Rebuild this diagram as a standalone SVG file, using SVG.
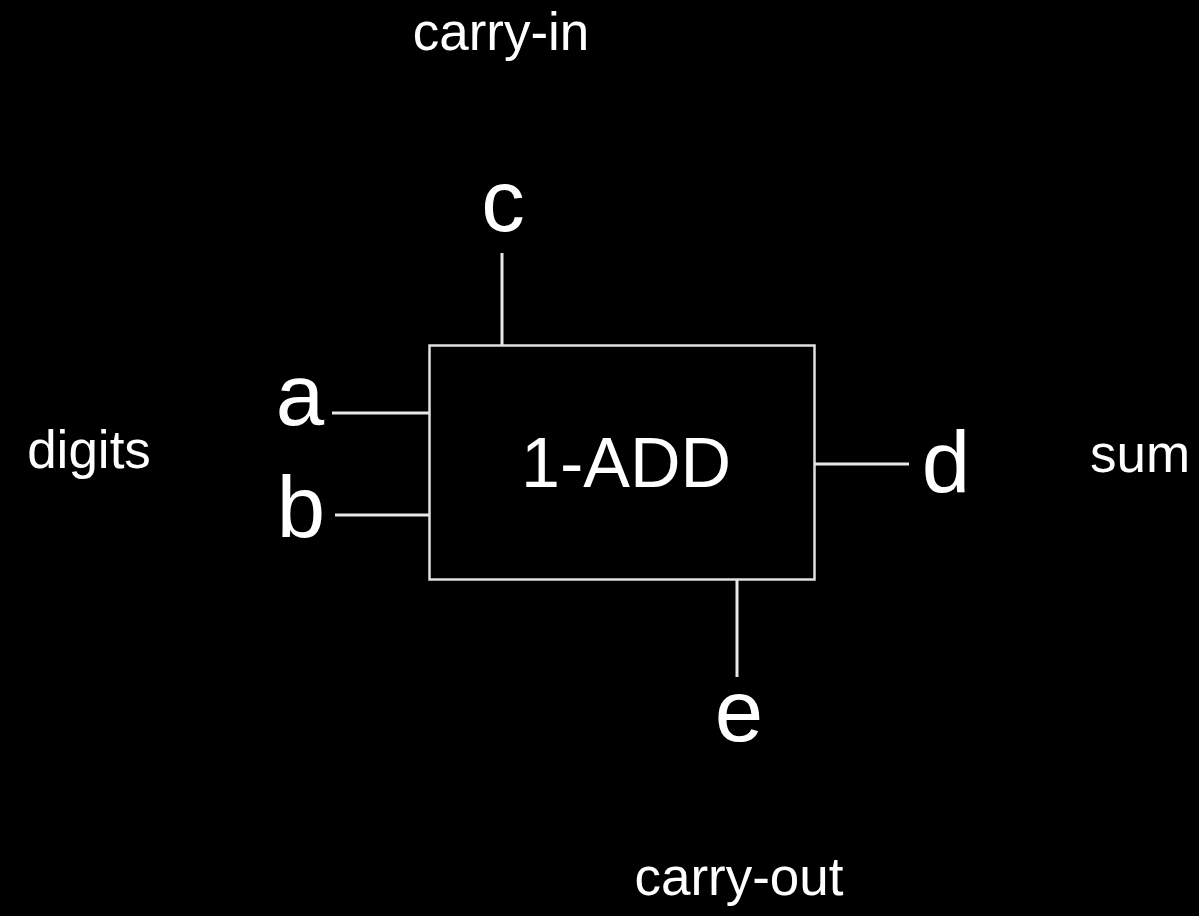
<svg xmlns="http://www.w3.org/2000/svg" width="1199" height="916" viewBox="0 0 1199 916">
<style>
.lbl{font-family:"Liberation Sans",Arial,sans-serif;fill:#ffffff;font-size:53px;text-anchor:middle}
.pin{font-family:"Liberation Sans",Arial,sans-serif;fill:#ffffff;font-size:87px;text-anchor:middle}
.wire{stroke:#e8e8e8;stroke-width:3;fill:none}
</style>
<rect x="0" y="0" width="1199" height="916" fill="#000000"/>
<g id="labels">
<text class="lbl" x="501" y="50">carry-in</text>
<text class="lbl" x="89" y="468">digits</text>
<text class="lbl" x="1140" y="472">sum</text>
<text class="lbl" x="739" y="895">carry-out</text>
</g>
<g id="adder">
<rect x="429.5" y="345.5" width="385" height="234" fill="#000000" stroke="#e0e0e0" stroke-width="2.5"/>
<text x="626" y="487" font-family="'Liberation Sans',Arial,sans-serif" font-size="70" fill="#ffffff" text-anchor="middle">1-ADD</text>
</g>
<g id="pin-a"><text class="pin" x="300" y="425">a</text></g>
<g id="pin-b"><text class="pin" x="301" y="537">b</text></g>
<g id="pin-c"><text class="pin" x="503" y="231">c</text></g>
<g id="pin-d"><text class="pin" x="946" y="492">d</text></g>
<g id="pin-e"><text class="pin" x="739" y="741">e</text></g>
<g id="connectors">
<line class="wire" x1="332" y1="413" x2="429" y2="413"/>
<line class="wire" x1="335" y1="515" x2="429" y2="515"/>
<line class="wire" x1="502" y1="253" x2="502" y2="345"/>
<line class="wire" x1="815" y1="464" x2="909" y2="464"/>
<line class="wire" x1="737" y1="580" x2="737" y2="677"/>
</g>
</svg>
